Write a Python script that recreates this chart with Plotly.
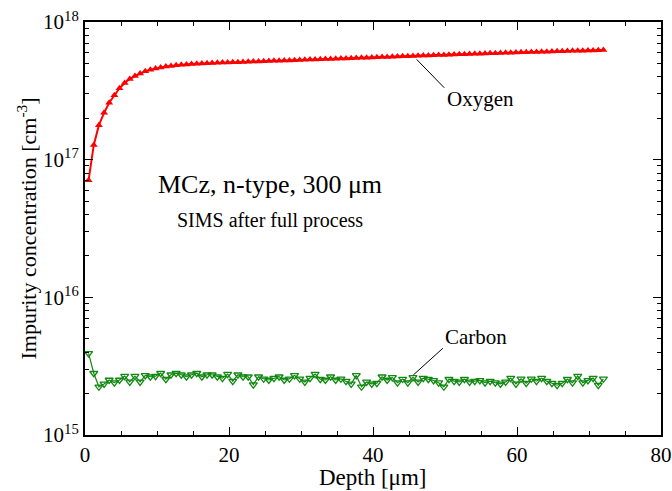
import math
import plotly.graph_objects as go

# SIMS depth grid [um], shared by both profiles
depth = [0.50, 1.22, 1.93, 2.65, 3.36, 4.08, 4.79, 5.51, 6.22, 6.94,
         7.65, 8.37, 9.08, 9.80, 10.51, 11.23, 11.94, 12.66, 13.37, 14.09,
         14.80, 15.52, 16.23, 16.95, 17.66, 18.38, 19.09, 19.81, 20.52, 21.24,
         21.95, 22.67, 23.38, 24.10, 24.81, 25.53, 26.24, 26.96, 27.67, 28.39,
         29.10, 29.82, 30.53, 31.25, 31.96, 32.68, 33.39, 34.11, 34.82, 35.54,
         36.25, 36.97, 37.68, 38.40, 39.11, 39.83, 40.54, 41.26, 41.97, 42.69,
         43.40, 44.12, 44.83, 45.55, 46.26, 46.98, 47.69, 48.41, 49.12, 49.84,
         50.55, 51.27, 51.98, 52.70, 53.41, 54.13, 54.84, 55.56, 56.27, 56.99,
         57.70, 58.42, 59.13, 59.85, 60.56, 61.28, 61.99, 62.71, 63.42, 64.14,
         64.85, 65.57, 66.28, 67.00, 67.71, 68.43, 69.14, 69.86, 70.57, 71.29,
         72.00]

# Oxygen concentration [1e17 cm^-3]
oxygen_e17 = [0.71, 1.28, 1.78, 2.19, 2.59, 2.94, 3.30, 3.60, 3.85, 4.05,
              4.22, 4.38, 4.50, 4.60, 4.68, 4.75, 4.80, 4.85, 4.89, 4.92,
              4.95, 4.97, 4.99, 5.01, 5.03, 5.05, 5.07, 5.08, 5.10, 5.11,
              5.13, 5.14, 5.16, 5.17, 5.19, 5.20, 5.22, 5.23, 5.25, 5.26,
              5.28, 5.30, 5.31, 5.33, 5.34, 5.36, 5.38, 5.39, 5.41, 5.43,
              5.44, 5.46, 5.48, 5.49, 5.51, 5.53, 5.55, 5.56, 5.58, 5.60,
              5.61, 5.63, 5.65, 5.66, 5.68, 5.70, 5.71, 5.73, 5.75, 5.77,
              5.78, 5.80, 5.82, 5.83, 5.85, 5.87, 5.88, 5.90, 5.92, 5.93,
              5.95, 5.97, 5.98, 6.00, 6.02, 6.03, 6.05, 6.06, 6.08, 6.09,
              6.11, 6.12, 6.14, 6.15, 6.17, 6.18, 6.19, 6.21, 6.22, 6.23,
              6.25]

# Carbon concentration [1e15 cm^-3]
carbon_e15 = [3.92, 2.81, 2.24, 2.35, 2.51, 2.40, 2.51, 2.68, 2.43, 2.68,
              2.43, 2.71, 2.65, 2.68, 2.81, 2.54, 2.74, 2.81, 2.74, 2.65,
              2.74, 2.81, 2.65, 2.74, 2.74, 2.65, 2.59, 2.77, 2.46, 2.74,
              2.65, 2.65, 2.32, 2.65, 2.56, 2.51, 2.59, 2.65, 2.51, 2.56,
              2.71, 2.56, 2.43, 2.59, 2.77, 2.54, 2.51, 2.65, 2.51, 2.56,
              2.46, 2.35, 2.71, 2.24, 2.43, 2.35, 2.38, 2.65, 2.51, 2.62,
              2.40, 2.55, 2.40, 2.62, 2.43, 2.59, 2.54, 2.49, 2.40, 2.24,
              2.54, 2.46, 2.43, 2.54, 2.43, 2.46, 2.49, 2.40, 2.46, 2.40,
              2.35, 2.43, 2.59, 2.35, 2.56, 2.38, 2.56, 2.46, 2.59, 2.46,
              2.38, 2.30, 2.38, 2.54, 2.40, 2.68, 2.40, 2.49, 2.59, 2.30,
              2.56]

y_tickvals = [1e15, 1e16, 1e17, 1e18]
y_ticktext = ["10<sup>15</sup>", "10<sup>16</sup>", "10<sup>17</sup>", "10<sup>18</sup>"]
x_tickvals = [0, 20, 40, 60, 80]

oxygen = [v * 1e17 for v in oxygen_e17]
carbon = [v * 1e15 for v in carbon_e15]

FONT = "Liberation Serif, Times New Roman, serif"
RED = "#ff0000"
GREEN = "#118811"
Y_LOG_MIN, Y_LOG_MAX = 15, 18


def y_frac(conc):
    """Concentration -> fraction of the plot height on the log axis."""
    return (math.log10(conc) - Y_LOG_MIN) / (Y_LOG_MAX - Y_LOG_MIN)


fig = go.Figure()
fig.add_trace(go.Scatter(
    x=depth, y=oxygen, mode="lines+markers", name="Oxygen",
    line=dict(color=RED, width=2),
    marker=dict(symbol="triangle-up", size=7, color=RED),
))
fig.add_trace(go.Scatter(
    x=depth, y=carbon, mode="lines+markers", name="Carbon",
    line=dict(color=GREEN, width=1.2),
    marker=dict(symbol="triangle-down-open", size=7, color=GREEN,
                line=dict(width=1.3, color=GREEN)),
))

axis_common = dict(
    showline=True, linecolor="black", linewidth=2, mirror="allticks",
    ticks="inside", tickcolor="black", tickwidth=1.3,
    showgrid=False, zeroline=False, automargin=False,
    tickfont=dict(family=FONT, size=21, color="black"),
)

fig.update_xaxes(
    range=[0, 80], tickmode="array", tickvals=x_tickvals, ticklen=8,
    minor=dict(ticks="inside", dtick=5, ticklen=4, tickcolor="black", tickwidth=1.3, showgrid=False),
    **axis_common,
)
fig.update_yaxes(
    type="log", range=[Y_LOG_MIN, Y_LOG_MAX], tickmode="array",
    tickvals=y_tickvals, ticktext=y_ticktext, ticklen=8,
    minor=dict(ticks="inside", dtick="D1", ticklen=4, tickcolor="black", tickwidth=1.3, showgrid=False),
    **axis_common,
)

annotations = [
    # axis titles
    dict(text="Depth [μm]", xref="paper", yref="paper", x=0.5, y=-0.104,
         showarrow=False, xanchor="center", yanchor="middle",
         font=dict(family=FONT, size=23, color="black")),
    dict(text="Impurity concentration [cm<sup>-3</sup>]", xref="paper", yref="paper",
         x=-0.1024, y=0.5, textangle=-90, showarrow=False,
         xanchor="center", yanchor="middle",
         font=dict(family=FONT, size=22, color="black")),
    # sample description
    dict(text="MCz, n-type, 300 μm", x=25.7, y=16.823, showarrow=False,
         xanchor="center", yanchor="middle",
         font=dict(family=FONT, size=26, color="black")),
    dict(text="SIMS after full process", x=25.7, y=16.561, showarrow=False,
         xanchor="center", yanchor="middle",
         font=dict(family=FONT, size=20, color="black")),
    # curve labels
    dict(text="Oxygen", x=54.93, y=17.44, showarrow=False,
         xanchor="center", yanchor="middle",
         font=dict(family=FONT, size=21, color="black")),
    dict(text="Carbon", x=54.3, y=15.712, showarrow=False,
         xanchor="center", yanchor="middle",
         font=dict(family=FONT, size=21, color="black")),
]

# leader lines from the labels to the curves
leaders = [
    ((46.07, 10 ** 17.728), (49.9, 10 ** 17.522)),
    ((45.6, 10 ** 15.436), (49.7, 10 ** 15.630)),
]
shapes = [
    dict(type="line", xref="x", yref="paper",
         x0=p0[0], y0=y_frac(p0[1]), x1=p1[0], y1=y_frac(p1[1]),
         line=dict(color="black", width=1))
    for p0, p1 in leaders
]

fig.update_layout(
    width=672, height=491,
    margin=dict(l=85, r=11, t=22, b=56),
    paper_bgcolor="white", plot_bgcolor="white",
    showlegend=False,
    annotations=annotations,
    shapes=shapes,
    font=dict(family=FONT, color="black"),
)

fig.write_html("out.html")
